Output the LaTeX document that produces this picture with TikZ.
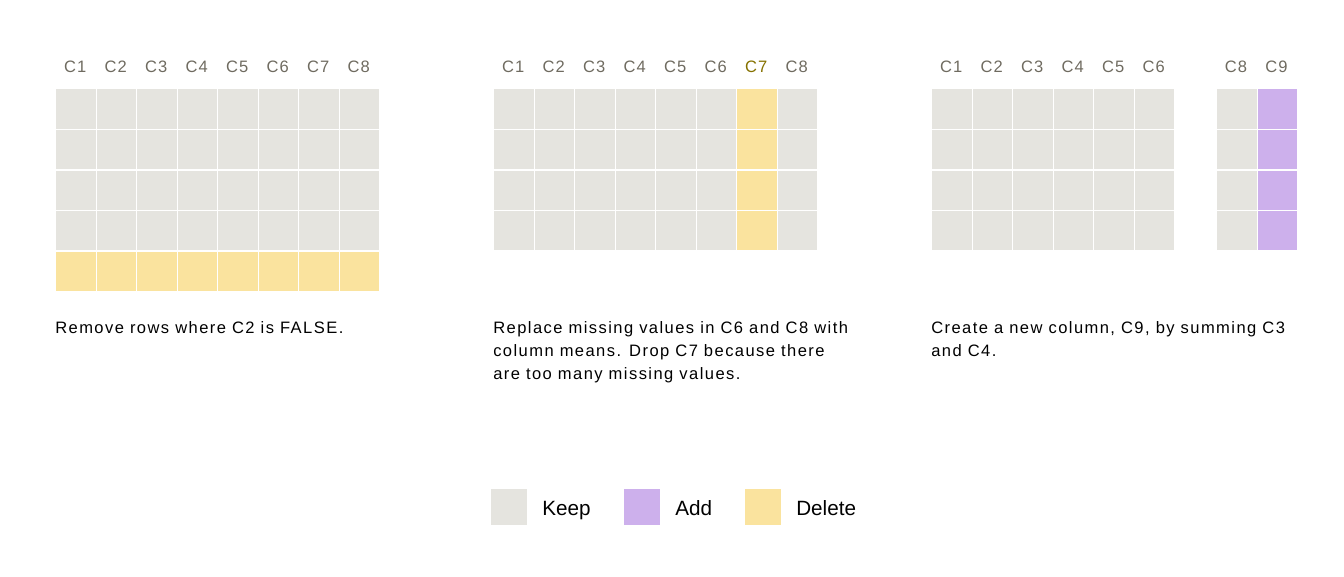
\documentclass[tikz,border=0pt]{standalone}
\usepackage{fontspec}
\setmainfont{Liberation Sans}
\newfontfamily\trackfont{Liberation Sans}[LetterSpace=7]
\newfontfamily\capfont{Liberation Sans}[LetterSpace=8.7]
\usepackage{xcolor}
\usetikzlibrary{positioning}

\definecolor{keepgray}{HTML}{E5E4DF}
\definecolor{addpurple}{HTML}{CDB0EC}
\definecolor{delyellow}{HTML}{FAE39E}
\definecolor{headgray}{HTML}{6F6B60}
\definecolor{headolive}{HTML}{857100}

\begin{document}
\begin{tikzpicture}[
    x=0.75pt, y=-0.75pt,
    cell/.style={rectangle, fill=#1, draw=white, line width=1.1pt, minimum width=30.375pt, minimum height=30.45pt, inner sep=0pt, anchor=north west},
    colhead/.style={font=\trackfont\fontsize{12.4}{14}\selectfont, text=headgray, inner sep=0pt},
    caption/.style={font=\capfont\fontsize{12.4}{17.25}\selectfont, align=left, anchor=north west, inner sep=0pt},
    swatch/.style={rectangle, fill=#1, minimum size=27pt, inner sep=0pt, anchor=north west},
    legendtext/.style={font=\fontsize{15.5}{18}\selectfont, inner sep=0pt, anchor=base west}
]
    \useasboundingbox (0,0) rectangle (1344,576);

    % Grid 1: remove a row
    \foreach \c in {1,...,8} {
        \node[colhead] (ahead\c) at (55+\c*40.5-20.25, 67) {C\c};
        \foreach \r in {1,...,4}
            \node[cell=keepgray] (a-\r-\c) at (55+\c*40.5-40.5, 88+\r*40.6-40.6) {};
        \node[cell=delyellow] (a-5-\c) at (55+\c*40.5-40.5, 88+4*40.6) {};
    }
    \node[caption] (acap) at (55, 321) {Remove rows where C2 is FALSE.};

    % Grid 2: drop a column
    \foreach \c in {1,...,8} {
        \foreach \r in {1,...,4}
            \node[cell=keepgray] (b-\r-\c) at (493+\c*40.5-40.5, 88+\r*40.6-40.6) {};
    }
    \foreach \c in {1,2,3,4,5,6,8}
        \node[colhead] (bhead\c) at (493+\c*40.5-20.25, 67) {C\c};
    \node[colhead, text=headolive] (bhead7) at (493+7*40.5-20.25, 67) {C7};
    \foreach \r in {1,...,4}
        \node[cell=delyellow] (b-\r-7) at (493+6*40.5, 88+\r*40.6-40.6) {};
    \node[caption] (bcap) at (493, 321) {Replace missing values in C6 and C8 with\\column means. Drop C7 because there\\are too many missing values.};

    % Grid 3: add a column
    \foreach \c in {1,...,6} {
        \node[colhead] (chead\c) at (931+\c*40.5-20.25, 67) {C\c};
        \foreach \r in {1,...,4}
            \node[cell=keepgray] (c-\r-\c) at (931+\c*40.5-40.5, 88+\r*40.6-40.6) {};
    }
    \node[colhead] (chead8) at (1236, 67) {C8};
    \node[colhead] (chead9) at (1276.5, 67) {C9};
    \foreach \r in {1,...,4} {
        \node[cell=keepgray] (c-\r-8) at (1216, 88+\r*40.6-40.6) {};
        \node[cell=addpurple] (c-\r-9) at (1256.5, 88+\r*40.6-40.6) {};
    }
    \node[caption] (ccap) at (931, 321) {Create a new column, C9, by summing C3\\and C4.};

    % Legend
    \node[swatch=keepgray] (keepbox) at (491, 489) {};
    \node[legendtext] (keeplbl) at (542, 515) {Keep};
    \node[swatch=addpurple] (addbox) at (624, 489) {};
    \node[legendtext] (addlbl) at (675, 515) {Add};
    \node[swatch=delyellow] (delbox) at (745, 489) {};
    \node[legendtext] (dellbl) at (796, 515) {Delete};
\end{tikzpicture}
\end{document}
